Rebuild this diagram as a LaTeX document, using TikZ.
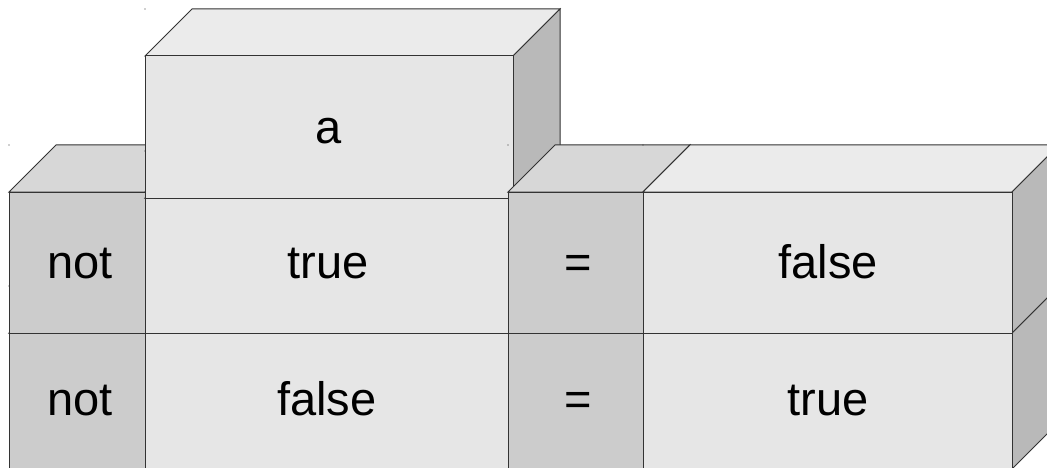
\documentclass[tikz,border=0pt]{standalone}
\usepackage{fontspec}
\setmainfont{Liberation Sans}
\definecolor{litefront}{HTML}{E6E6E6}
\definecolor{litetop}{HTML}{EBEBEB}
\definecolor{liteside}{HTML}{B9B9B9}
\definecolor{darkfront}{HTML}{CCCCCC}
\definecolor{darktop}{HTML}{D7D7D7}
\definecolor{darkside}{HTML}{B0B0B0}
\definecolor{edgecol}{HTML}{333333}
\tikzset{
  edge/.style={draw=edgecol, line width=1pt, line join=miter},
  boxtext/.style={anchor=base, inner sep=0pt, font=\fontsize{47pt}{56pt}\selectfont, text=black},
}
% \cuboid{x left}{y top}{x right}{y bottom}{front}{top}{side}
% draws a block seen from above right, depth 47
\newcommand\cuboid[7]{%
  \fill[edgecol] (#1,#2-47) circle (0.7);
  \draw[edge, fill=#6] (#1,#2) -- (#1+47,#2-47) -- (#3+47,#2-47) -- (#3,#2) -- cycle;
  \draw[edge, fill=#7] (#3,#2) -- (#3+47,#2-47) -- (#3+47,#4-47) -- (#3,#4) -- cycle;
  \draw[edge, fill=#5] (#1,#2) rectangle (#3,#4);
}
\begin{document}
\begin{tikzpicture}[x=1pt, y=-1pt]
  \useasboundingbox (0,0) rectangle (1047,468);
  \clip (0,0) rectangle (1047,468);
  % lower row
  \cuboid{9}{333}{145}{469}{darkfront}{darktop}{darkside}
  \node[boxtext] (notB) at (80,415) {not};
  \cuboid{145}{333}{508}{469}{litefront}{litetop}{liteside}
  \node[boxtext] (falseB) at (327,415) {false};
  \cuboid{508}{333}{643}{469}{darkfront}{darktop}{darkside}
  \node[boxtext] (eqB) at (578,415) {=};
  \cuboid{643}{333}{1012}{469}{litefront}{litetop}{liteside}
  \node[boxtext] (trueB) at (828,415) {true};
  % upper row and the header block
  \cuboid{9}{192}{145}{333}{darkfront}{darktop}{darkside}
  \node[boxtext] (notA) at (80,278) {not};
  \cuboid{145}{198}{508}{333}{litefront}{litetop}{liteside}
  \node[boxtext] (trueA) at (328,278) {true};
  \cuboid{145}{56}{513}{198}{litefront}{litetop}{liteside}
  \node[boxtext] (head) at (329,143) {a};
  \cuboid{508}{192}{643}{333}{darkfront}{darktop}{darkside}
  \node[boxtext] (eqA) at (578,278) {=};
  \cuboid{643}{192}{1012}{333}{litefront}{litetop}{liteside}
  \node[boxtext] (falseA) at (828,278) {false};
\end{tikzpicture}
\end{document}
